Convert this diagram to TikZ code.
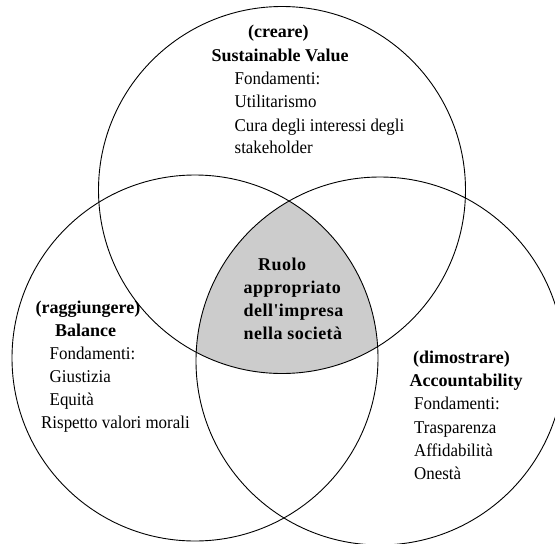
\documentclass[tikz,border=0pt]{standalone}
\usepackage{fontspec}
\setmainfont{Liberation Serif}[FakeStretch=0.94]
\newfontfamily\headserif{Liberation Serif}
\newfontfamily\trackedserif[LetterSpace=2.5]{Liberation Serif}
\definecolor{coreGray}{HTML}{CCCCCC}
\begin{document}
\begin{tikzpicture}[x=1pt,y=-1pt,
  ring/.style={draw=black,line width=0.9pt},
  txt/.style={inner sep=0pt,anchor=base west,font=\fontsize{18}{22}\selectfont},
  hd/.style={txt,font=\fontsize{18}{22}\headserif\bfseries},
  core/.style={txt,font=\fontsize{18}{22}\trackedserif\bfseries}]
\clip (0,0) rectangle (555,544);
\fill[white] (0,0) rectangle (555,544);

% circle centres
\coordinate (cT) at (282,190);
\coordinate (cL) at (195,358);
\coordinate (cR) at (380,361);

% common area of the three circles
\begin{scope}
  \clip (cT) circle[radius=183.5];
  \clip (cL) circle[radius=183];
  \fill[coreGray] (cR) circle[radius=184];
\end{scope}

\draw[ring] (cT) circle[radius=183.5];
\draw[ring] (cL) circle[radius=183];
\draw[ring] (cR) circle[radius=184];

% Sustainable Value
\node[hd]  (t1) at (248,37)  {(creare)};
\node[hd]  (t2) at (211.5,61) {Sustainable Value};
\node[txt] (t3) at (234.5,84) {Fondamenti:};
\node[txt] (t4) at (234.5,107) {Utilitarismo};
\node[txt] (t5) at (234.5,131) {Cura degli interessi degli};
\node[txt] (t6) at (234.5,153) {stakeholder};

% centre
\node[core] (c1) at (258,270) {Ruolo};
\node[core] (c2) at (243.5,293) {appropriato};
\node[core] (c3) at (243.5,316) {dell'impresa};
\node[core] (c4) at (243.5,339) {nella società};

% Balance
\node[hd]  (l1) at (35.5,313) {(raggiungere)};
\node[hd]  (l2) at (55,336) {Balance};
\node[txt] (l3) at (49.5,359) {Fondamenti:};
\node[txt] (l4) at (49.5,382) {Giustizia};
\node[txt] (l5) at (49.5,405) {Equità};
\node[txt] (l6) at (41,428) {Rispetto valori morali};

% Accountability
\node[hd]  (r1) at (413,363) {(dimostrare)};
\node[hd]  (r2) at (409.5,386) {Accountability};
\node[txt] (r3) at (414,409) {Fondamenti:};
\node[txt] (r4) at (414,433) {Trasparenza};
\node[txt] (r5) at (414,456) {Affidabilità};
\node[txt] (r6) at (414,479) {Onestà};
\end{tikzpicture}
\end{document}
